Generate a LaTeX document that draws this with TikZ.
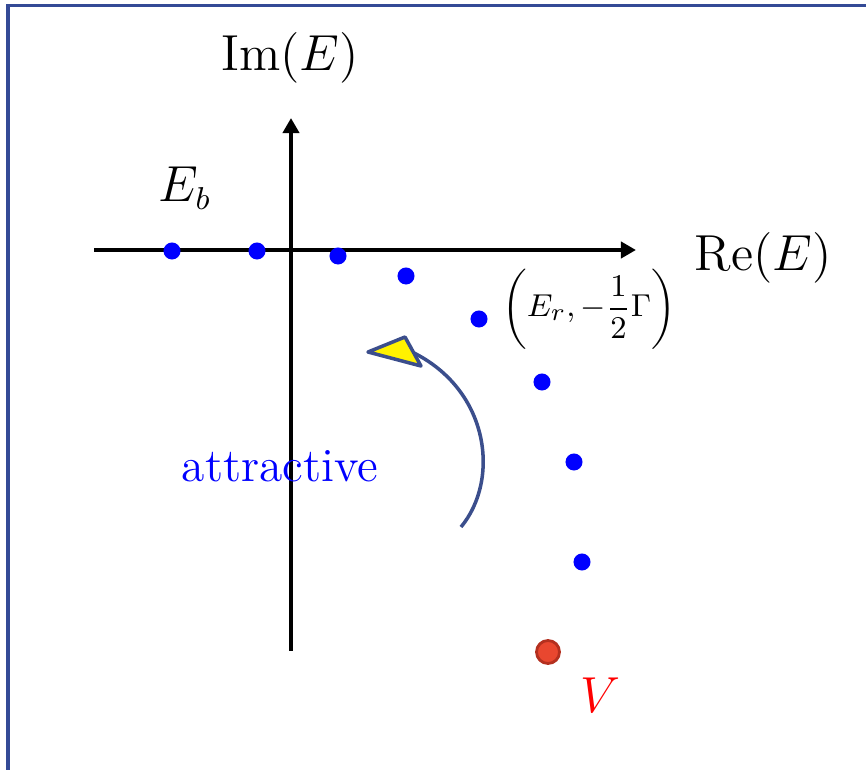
\documentclass[tikz,border=0pt]{standalone}
\usepackage{amsmath,amssymb}
\usepackage{tikz}
\usetikzlibrary{arrows.meta, positioning, calc}
\definecolor{frameBlue}{RGB}{52, 74, 150}
\definecolor{curveBlue}{RGB}{59, 78, 140}
\definecolor{poleRed}{RGB}{233, 71, 47}
\definecolor{poleEdge}{RGB}{180, 48, 31}

\begin{document}
\begin{tikzpicture}[
    x=0.01cm, y=-0.01cm,
    axis/.style={-{Triangle[length=0.15cm, width=0.16cm]}, line width=1.1pt, black},
    dot/.style={circle, fill=blue, inner sep=0pt, minimum size=0.17cm},
    pole/.style={circle, fill=poleRed, draw=poleEdge, line width=0.8pt, inner sep=0pt, minimum size=0.23cm},
    lbl/.style={inner sep=0pt, font=\fontsize{13.5}{16}\selectfont},
    flow/.style={curveBlue, line width=1pt}
]
    \useasboundingbox (0,0) rectangle (866,770);
    % Frame
    \draw[frameBlue, line width=0.03cm] (8,775) -- (8,6) -- (875,6);

    % Axes
    \coordinate (xl) at (94,250);
    \coordinate (xr) at (636,250);
    \coordinate (yb) at (291,651);
    \coordinate (yt) at (291,118);
    \draw[axis] (xl) -- (xr);
    \draw[axis] (yb) -- (yt);
    \node[lbl] (im) at (290,58) {$\mathrm{Im}(E)$};
    \node[lbl] (re) at (763,258) {$\mathrm{Re}(E)$};

    % Poles
    \foreach \i/\px/\py in {1/172/251, 2/257/251, 3/338/256, 4/406/276, 5/479/319, 6/542/382, 7/574/462, 8/582/562}
        \node[dot] (p\i) at (\px,\py) {};
    \node[pole] (v) at (548,652) {};

    % Labels
    \node[lbl] (eb) at (185,188) {$E_b$};
    \node[inner sep=0pt, font=\fontsize{9.5}{11}\selectfont] (er) at (589,309) {$\biggl(E_r, -\dfrac{1}{2}\Gamma\biggr)$};
    \node[lbl, text=red, font=\fontsize{14.5}{17}\selectfont] (vl) at (600,695) {$V$};
    \node[lbl, text=blue] (att) at (280,466) {attractive};

    % Curved arrow
    \coordinate (cs) at (461,527);
    \coordinate (ce) at (412,352);
    \draw[flow] (cs) .. controls (500,480) and (490,390) .. (ce);
    \filldraw[fill=yellow, draw=curveBlue, line width=1pt, line join=round] (368,352) -- (405,337) -- (421,366) -- cycle;
\end{tikzpicture}
\end{document}
